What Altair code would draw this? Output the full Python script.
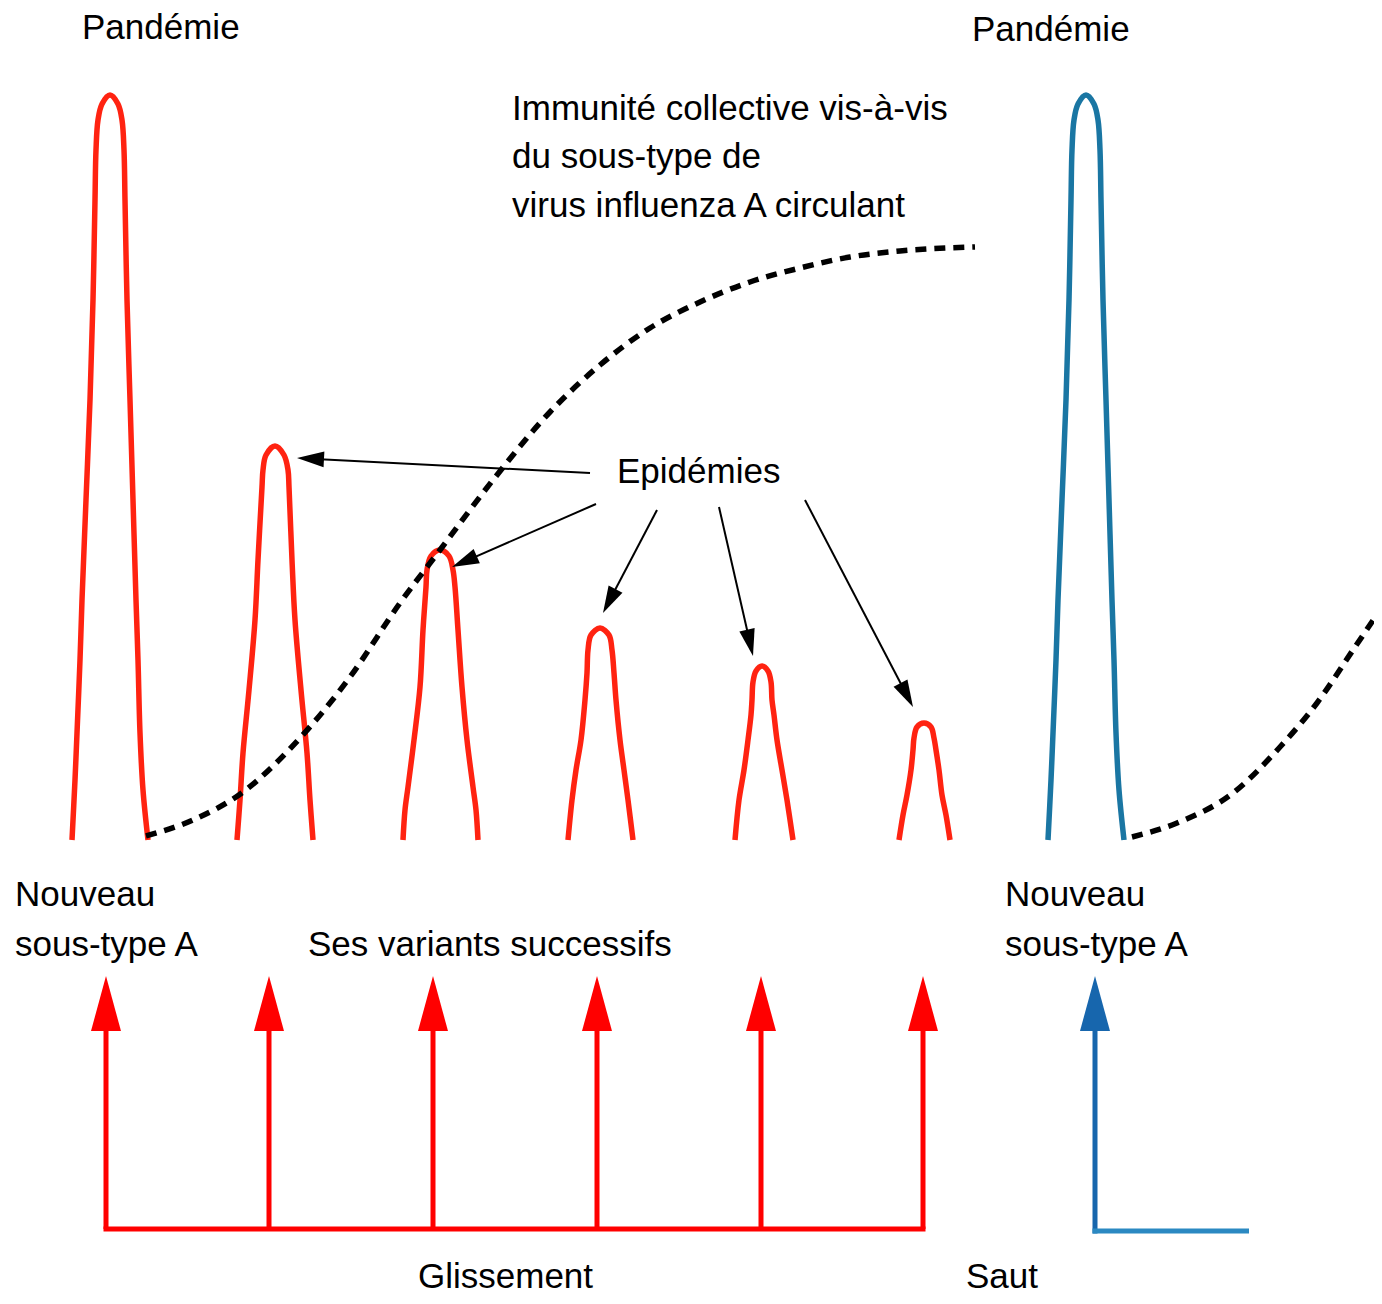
import math
import altair as alt
import pandas as pd

FONT = "Liberation Sans"
RED_PEAK = "#ff2311"
BLUE_PEAK = "#1a76a3"
RED = "#ff0000"
BLUE_HEAD = "#1766ad"
BLUE_BASE = "#2b89c2"

# ---- epidemic / pandemic peak outlines (picture units: x to the right, y downward)
peak1_x = [72, 75, 77, 80, 82, 86, 90, 93, 95, 96, 98, 102, 110, 118, 122, 124, 125, 127, 130, 133, 136, 138, 140, 143, 148]
peak1_y = [840, 780, 733, 660, 600, 500, 400, 300, 200, 150, 120, 104, 95, 104, 120, 150, 200, 300, 400, 500, 600, 660, 733, 790, 840]

peak2_x = [237, 240, 243, 249, 255, 258, 262, 263, 266, 275, 284, 288, 289, 292, 295, 301, 307, 310, 313]
peak2_y = [840, 800, 753, 690, 620, 560, 487, 470, 455, 446, 455, 470, 487, 560, 620, 690, 753, 800, 840]

peak3_x = [403, 405, 408, 414, 420, 423, 426, 427, 431, 440, 449, 453, 455, 458, 462, 467, 473, 476, 478]
peak3_y = [840, 810, 787, 740, 687, 630, 587, 570, 556, 550, 556, 570, 587, 630, 687, 740, 787, 810, 840]

peak4_x = [568, 572, 576, 581, 585, 587, 588, 591, 600, 609, 612, 614, 616, 620, 624, 628, 633]
peak4_y = [840, 800, 770, 740, 700, 673, 650, 635, 628, 635, 650, 673, 700, 740, 770, 800, 840]

peak5_x = [735, 739, 744, 748, 751, 752, 753, 756, 762, 768, 771, 772, 774, 777, 782, 787, 793]
peak5_y = [840, 800, 770, 740, 715, 700, 682, 671, 666, 671, 682, 700, 715, 740, 770, 800, 840]

peak6_x = [899, 903, 907, 911, 913, 914, 917, 924, 931, 934, 936, 939, 942, 946, 950]
peak6_y = [840, 815, 795, 770, 750, 738, 727, 723, 727, 738, 750, 770, 795, 815, 840]

peak7_x = [1048, 1051, 1053, 1056, 1058, 1062, 1066, 1069, 1071, 1072, 1074, 1078, 1086, 1094, 1098, 1100, 1101, 1103, 1106, 1109, 1112, 1114, 1116, 1119, 1124]
peak7_y = [840, 780, 733, 660, 600, 500, 400, 300, 200, 150, 120, 104, 95, 104, 120, 150, 200, 300, 400, 500, 600, 660, 733, 790, 840]

peaks = [
    ("p1", peak1_x, peak1_y, RED_PEAK),
    ("p2", peak2_x, peak2_y, RED_PEAK),
    ("p3", peak3_x, peak3_y, RED_PEAK),
    ("p4", peak4_x, peak4_y, RED_PEAK),
    ("p5", peak5_x, peak5_y, RED_PEAK),
    ("p6", peak6_x, peak6_y, RED_PEAK),
    ("p7", peak7_x, peak7_y, BLUE_PEAK),
]

# ---- herd immunity curves (dotted)
immun1_x = [146, 193, 243, 300, 350, 400, 440, 493, 550, 600, 650, 700, 750, 800, 850, 900, 975]
immun1_y = [836, 820, 792, 738, 677, 603, 550, 480, 412, 365, 328, 302, 282, 268, 257, 251, 247]
immun2_x = [1132, 1177, 1233, 1280, 1317, 1353, 1382]
immun2_y = [837, 823, 793, 747, 703, 650, 607]

# ---- black arrows from "Epidémies"
arrow_x0 = [590, 596, 657, 719, 805]
arrow_y0 = [473, 504, 510, 507, 500]
arrow_x1 = [297, 452, 603, 753, 913]
arrow_y1 = [458, 567, 613, 656, 707]

# ---- drift (red) and shift (blue) arrows
drift_x = [106, 269, 433, 597, 761, 923]
drift_base_y = 1229
arrow_tip_y = 976
shift_x = 1095
shift_end_x = 1249
shift_base_y = 1231

# ---- labels
label_text = ["Pandémie", "Pandémie",
              "Immunité collective vis-à-vis", "du sous-type de", "virus influenza A circulant",
              "Epidémies",
              "Nouveau", "sous-type A", "Ses variants successifs",
              "Nouveau", "sous-type A",
              "Glissement", "Saut"]
label_x = [82, 972, 512, 512, 512, 617, 15, 15, 308, 1005, 1005, 418, 966]
label_y = [39, 41, 120, 168, 217, 483, 906, 956, 956, 906, 956, 1288, 1288]

# ---------------------------------------------------------------- build tables
rows = []
for name, xs, ys, col in peaks:
    for i, (a, b) in enumerate(zip(xs, ys)):
        rows.append({"seg": name, "i": i, "x": a, "y": b, "c": col})
peak_df = pd.DataFrame(rows)

rows = []
for name, xs, ys in [("d1", immun1_x, immun1_y), ("d2", immun2_x, immun2_y)]:
    for i, (a, b) in enumerate(zip(xs, ys)):
        rows.append({"seg": name, "i": i, "x": a, "y": b})
dot_df = pd.DataFrame(rows)

HEAD_BLACK = 27
HEAD_BIG = 55
rule_rows = []
head_rows = []
for x0, y0, x1, y1 in zip(arrow_x0, arrow_y0, arrow_x1, arrow_y1):
    dx, dy = x1 - x0, y1 - y0
    n = math.hypot(dx, dy)
    ux, uy = dx / n, dy / n
    cx, cy = x1 - ux * HEAD_BLACK / 2, y1 - uy * HEAD_BLACK / 2
    ang = math.degrees(math.atan2(ux, -uy)) % 360
    rule_rows.append({"x": x0, "y": y0, "x2": cx, "y2": cy, "c": "#000000", "w": 2})
    head_rows.append({"x": cx, "y": cy, "a": ang, "s": HEAD_BLACK ** 2, "c": "#000000", "k": "black"})

for xv in drift_x:
    rule_rows.append({"x": xv, "y": drift_base_y, "x2": xv, "y2": arrow_tip_y + HEAD_BIG / 2, "c": RED, "w": 5})
    head_rows.append({"x": xv, "y": arrow_tip_y + HEAD_BIG / 2, "a": 0, "s": HEAD_BIG ** 2, "c": RED, "k": "big"})
rule_rows.append({"x": drift_x[0] - 2.5, "y": drift_base_y, "x2": drift_x[-1] + 2.5, "y2": drift_base_y, "c": RED, "w": 5})
rule_rows.append({"x": shift_x, "y": shift_base_y + 2.5, "x2": shift_x, "y2": arrow_tip_y + HEAD_BIG / 2, "c": BLUE_HEAD, "w": 5})
rule_rows.append({"x": shift_x - 2.5, "y": shift_base_y, "x2": shift_end_x, "y2": shift_base_y, "c": BLUE_BASE, "w": 5})
head_rows.append({"x": shift_x, "y": arrow_tip_y + HEAD_BIG / 2, "a": 0, "s": HEAD_BIG ** 2, "c": BLUE_HEAD, "k": "big"})
rule_df = pd.DataFrame(rule_rows)
head_df = pd.DataFrame(head_rows)

label_df = pd.DataFrame({"t": label_text, "x": label_x, "y": label_y})

# ---------------------------------------------------------------- encodings
XS = alt.Scale(domain=[8, 1374], nice=False, zero=False)
YS = alt.Scale(domain=[8, 1296], nice=False, zero=False, reverse=True)
X = alt.X("x:Q", scale=XS, axis=None)
Y = alt.Y("y:Q", scale=YS, axis=None)

peaks_layer = alt.Chart(peak_df).mark_line(
    strokeWidth=5.5, strokeJoin="round", strokeCap="butt", interpolate="catmull-rom"
).encode(x=X, y=Y, detail="seg:N", order="i:Q", color=alt.Color("c:N", scale=None))

dots_layer = alt.Chart(dot_df).mark_line(
    strokeWidth=5.5, strokeDash=[11, 8], color="#000000", interpolate="monotone"
).encode(x=X, y=Y, detail="seg:N", order="i:Q")

rules_layer = alt.Chart(rule_df).mark_rule(strokeCap="butt").encode(
    x=X, y=Y, x2="x2:Q", y2="y2:Q",
    color=alt.Color("c:N", scale=None),
    strokeWidth=alt.StrokeWidth("w:Q", scale=None),
)

black_heads = alt.Chart(head_df).transform_filter(alt.datum.k == "black").mark_point(
    shape="M0,-1L-0.58,1L0.58,1Z", filled=True, opacity=1, strokeWidth=0
).encode(x=X, y=Y, angle=alt.Angle("a:Q", scale=None), size=alt.Size("s:Q", scale=None),
         color=alt.Color("c:N", scale=None))

big_heads = alt.Chart(head_df).transform_filter(alt.datum.k == "big").mark_point(
    shape="M0,-1L-0.545,1L0.545,1Z", filled=True, opacity=1, strokeWidth=0
).encode(x=X, y=Y, angle=alt.Angle("a:Q", scale=None), size=alt.Size("s:Q", scale=None),
         color=alt.Color("c:N", scale=None))

labels_layer = alt.Chart(label_df).mark_text(
    align="left", baseline="alphabetic", font=FONT, fontSize=35, color="#000000"
).encode(x=X, y=Y, text="t:N")

chart = alt.layer(
    peaks_layer, dots_layer, rules_layer, black_heads, big_heads, labels_layer
).properties(
    width=1366, height=1288, padding=0,
    autosize=alt.AutoSizeParams(type="none"),
    background="#ffffff",
).configure_view(stroke=None)

chart.save("out.html", embed_options={"renderer": "svg", "actions": False})
